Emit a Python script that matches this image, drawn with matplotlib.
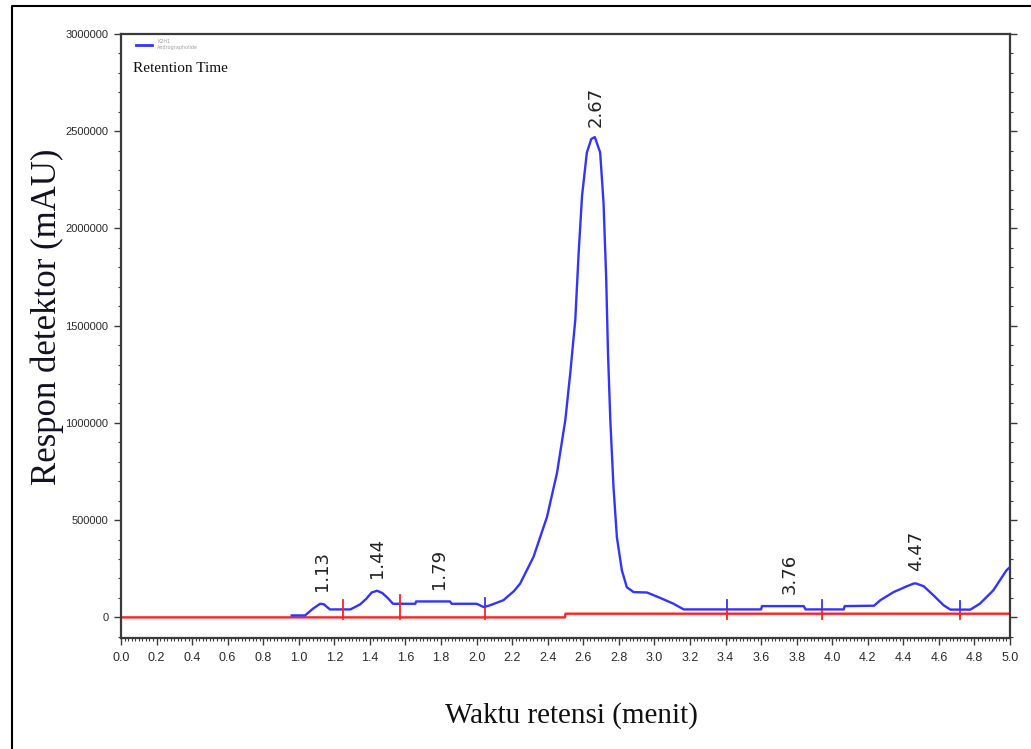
import numpy as np
import matplotlib
matplotlib.use("Agg")
import matplotlib.pyplot as plt
from matplotlib import font_manager
from matplotlib.ticker import MultipleLocator, FixedLocator

# Chromatogram trace (retention time in minutes, detector response in mAU)
time_min = [0.96, 1.035, 1.08, 1.12, 1.14, 1.175, 1.29, 1.345, 1.38, 1.41,
            1.44, 1.47, 1.50, 1.53, 1.655, 1.66, 1.85, 1.86, 2.00, 2.04,
            2.075, 2.15, 2.21, 2.245, 2.32, 2.396, 2.452, 2.499, 2.527, 2.555,
            2.574, 2.593, 2.62, 2.645, 2.665, 2.695, 2.714, 2.729, 2.739, 2.752,
            2.77, 2.789, 2.817, 2.845, 2.883, 2.958, 3.033, 3.108, 3.165, 3.60,
            3.605, 3.84, 3.85, 4.065, 4.07, 4.235, 4.27, 4.345, 4.42, 4.458,
            4.47, 4.515, 4.57, 4.627, 4.665, 4.777, 4.83, 4.906, 4.98, 5.00]
response = [10000, 10000, 45000, 70000, 68000, 41000, 41000, 67000, 96000, 128000,
            137000, 125000, 100000, 70000, 70000, 82000, 82000, 70000, 70000, 53000,
            62000, 88000, 135000, 174000, 311000, 517000, 742000, 1015000, 1258000, 1530000,
            1875000, 2167000, 2390000, 2460000, 2470000, 2390000, 2130000, 1740000, 1360000, 1015000,
            670000, 412000, 242000, 155000, 130000, 128000, 100000, 70000, 41000, 41000,
            58000, 58000, 41000, 41000, 58000, 60000, 88000, 130000, 160000, 174000,
            175000, 160000, 113000, 62000, 40000, 40000, 70000, 139000, 242000, 259000]

# Integration baseline
base_time = [0.0, 2.497, 2.50, 5.0]
base_resp = [0, 0, 19000, 19000]

# Retention times of the labelled peaks
peak_rt = [1.13, 1.44, 1.79, 2.67, 3.76, 4.47]
peak_labels = ["1.13", "1.44", "1.79", "2.67", "3.76", "4.47"]

# Integration boundaries
bound_rt = [1.25, 1.57, 2.05, 3.41, 3.94, 4.72]
bound_top_color = ["#ff2020", "#ff2020", "#3333ff", "#3333ff", "#3333ff", "#3333ff"]

x_ticks = np.round(np.arange(0, 5.01, 0.2), 1)
y_ticks = [0, 500000, 1000000, 1500000, 2000000, 2500000, 3000000]

installed = {f.name for f in font_manager.fontManager.ttflist}
tick_family = [f for f in ["Liberation Sans Narrow", "Liberation Sans"]
               if f in installed][:1] + ["DejaVu Sans"]
serif = ["Liberation Serif", "DejaVu Serif"]

BLUE = "#3333ff"
RED = "#ff2020"
SPINE = "#3a3a3a"

fig = plt.figure(figsize=(10.31, 7.49), dpi=100)
W, H = 1031, 749
ax = fig.add_axes([121 / W, 1 - 638 / H, (1010 - 121) / W, (638 - 34) / H])

ax.plot(base_time, base_resp, color=RED, lw=1.7, zorder=2)
ax.plot(time_min, response, color=BLUE, lw=1.7, zorder=3)

# integration boundary marks
for t, c in zip(bound_rt, bound_top_color):
    s = np.interp(t, time_min, response)
    ax.plot([t, t], [-8000, s], color=RED, lw=1.3, zorder=4)
    ax.plot([t, t], [s, s + 46000], color=c, lw=1.3, zorder=4)

# peak retention-time labels
for t, lab in zip(peak_rt, peak_labels):
    s = np.interp(t, time_min, response)
    ax.annotate(lab, xy=(t, s), xytext=(0, 9), textcoords="offset points",
                rotation=90, ha="center", va="bottom", fontsize=13,
                family="DejaVu Sans", color="#222222")

ax.set_xlim(0, 5.0)
ax.set_ylim(-106000, 3000000)
ax.xaxis.set_major_locator(FixedLocator(x_ticks))
ax.set_xticklabels([f"{v:.1f}" for v in x_ticks])
ax.xaxis.set_minor_locator(MultipleLocator(0.02))
ax.yaxis.set_major_locator(FixedLocator(y_ticks))
ax.set_yticklabels([str(v) for v in y_ticks])
ax.yaxis.set_minor_locator(MultipleLocator(100000))

ax.tick_params(axis="both", which="major", direction="out", length=5, width=1,
               color=SPINE, labelsize=8, labelcolor="#2a2a2a", pad=4)
ax.tick_params(axis="x", which="major", labelsize=9, pad=5)
ax.tick_params(axis="both", which="minor", direction="out", length=2.5, width=0.8,
               color=SPINE)
ax.tick_params(axis="y", which="both", right=True)
for lab in ax.get_xticklabels() + ax.get_yticklabels():
    lab.set_family(tick_family)

for sp in ax.spines.values():
    sp.set_color(SPINE)
    sp.set_linewidth(1.6)

ax.set_xlabel("Waktu retensi (menit)", family=serif, fontsize=21, color="#111111")
ax.xaxis.label.set_va("center")
ax.xaxis.set_label_coords((571 - 121) / 889, (638 - 716) / 604)
ax.set_ylabel("Respon detektor (mAU)", family=serif, fontsize=25, color="#111122")
ax.yaxis.label.set_va("center")
ax.yaxis.set_label_coords((47 - 121) / 889, (638 - 317) / 604)

# legend entry and caption
ax.legend([plt.Line2D([], [], color=BLUE, lw=2)], ["K2H1\nAndrographolide"],
          loc="upper left", bbox_to_anchor=(0.0147, 0.995), frameon=False,
          fontsize=3.5, labelcolor="#a0a0a0", handlelength=3.2, handletextpad=1.2,
          borderaxespad=0)
ax.text(0.0135, 0.9437, "Retention Time", transform=ax.transAxes, family=serif,
        fontsize=11, ha="left", va="center", color="#111111")

# outer frame (left and top edges)
fig.add_artist(plt.Line2D([12 / W, 12 / W, 1.0], [0.0, 1 - 6 / H, 1 - 6 / H],
                          transform=fig.transFigure, color="black", lw=1.5))

fig.savefig("out.png", dpi=100)
